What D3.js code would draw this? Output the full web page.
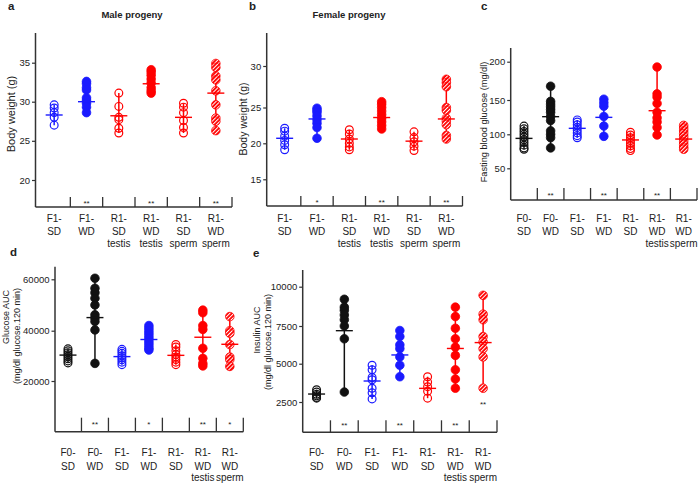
<!DOCTYPE html>
<html><head><meta charset="utf-8">
<script src="https://cdn.jsdelivr.net/npm/d3@7"></script>
<style>body{margin:0;background:#fff} svg{display:block} text{font-family:"Liberation Sans",Arial,sans-serif;fill:#222}</style>
</head><body><svg id="chart" width="700" height="483"></svg>
<script>
// ---------- categories ----------
const catsBW = [["F1-","SD"],["F1-","WD"],["R1-","SD","testis"],["R1-","WD","testis"],["R1-","SD","sperm"],["R1-","WD","sperm"]];
const groupsBW = ["F1-SD","F1-WD","R1-SD-testis","R1-WD-testis","R1-SD-sperm","R1-WD-sperm"];
const catsMet = [["F0-","SD"],["F0-","WD"],["F1-","SD"],["F1-","WD"],["R1-","SD"],["R1-","WD","testis"],["R1-","WD","sperm"]];
const groupsMet = ["F0-SD","F0-WD","F1-SD","F1-WD","R1-SD","R1-WD-testis","R1-WD-sperm"];

// ---------- a: male body weight (g) ----------
const maleWeight = [
  [29.6, 29.2, 28.6, 28.0, 27.0],
  [32.6, 32.3, 31.8, 31.5, 30.5, 30.2, 29.8, 29.3, 28.6],
  [31.1, 29.4, 28.0, 27.7, 26.6, 26.0],
  [34.1, 33.8, 33.4, 32.9, 32.4, 31.8, 31.4, 31.1],
  [29.8, 29.3, 28.6, 27.6, 26.7, 26.0],
  [34.9, 34.4, 33.3, 32.8, 31.4, 29.6, 27.9, 27.5, 26.3]
];
const maleMean = [28.3, 30.0, 28.2, 32.3, 28.0, 31.1];
const starsMale = ["","**","","**","","**"];
const ticksMale = [20, 25, 30, 35];

// ---------- b: female body weight (g) ----------
const femaleWeight = [
  [22.1, 21.7, 21.0, 20.4, 19.8, 19.1],
  [24.9, 24.6, 24.3, 23.8, 23.3, 22.8, 22.2, 20.7],
  [21.9, 21.3, 20.6, 20.0, 19.5, 19.1],
  [25.7, 25.4, 25.0, 24.5, 24.0, 23.5, 23.0, 22.5, 22.0],
  [21.6, 20.8, 20.2, 19.6, 19.0],
  [28.4, 28.0, 27.5, 25.0, 24.6, 23.5, 23.1, 22.6, 21.1, 20.6]
];
const femaleMean = [20.7, 23.4, 20.6, 23.6, 20.3, 23.4];
const starsFemale = ["","*","","**","","**"];
const ticksFemale = [15, 20, 25, 30];

// ---------- c: fasting blood glucose (mg/dl) ----------
const fastingGlucose = [
  [112, 108, 104, 100, 96, 92, 88, 84, 80, 78],
  [168, 148, 144, 140, 136, 132, 126, 120, 105, 100, 95, 80],
  [121, 118, 114, 110, 106, 102, 98, 95],
  [151, 146, 141, 126, 112, 97],
  [103, 99, 95, 91, 87, 83, 79, 76],
  [193, 158, 154, 145, 132, 124, 118, 110, 99],
  [113, 109, 105, 101, 97, 93, 89, 85, 81, 78]
];
const fastingMean = [94, 125.7, 108.7, 124.7, 91.7, 134.4, 93];
const starsFasting = ["","**","","**","","**",""];
const ticksFasting = [50, 100, 150, 200];

// ---------- d: glucose AUC ----------
const glucoseAUC = [
  [32800, 32000, 31200, 30400, 29600, 28800, 28000, 27200],
  [60400, 56500, 54800, 52600, 50000, 46200, 44900, 43600, 40300, 27000],
  [32600, 31800, 31000, 30000, 29200, 28400, 27500, 26500],
  [42000, 41000, 40000, 39000, 38000, 37000, 36000, 35000, 34000, 33000, 32300],
  [34500, 33500, 32000, 30500, 29500, 28500, 27500, 26500],
  [48000, 47000, 42000, 40500, 33000, 29000, 27000, 26000],
  [45500, 40000, 39000, 34500, 29500, 28500, 25800]
];
const glucoseMean = [30300, 45100, 29700, 36500, 30200, 37400, 34600];
const starsGlucose = ["","**","","*","","**","*"];
const ticksGlucose = [20000, 40000, 60000];

// ---------- e: insulin AUC ----------
const insulinAUC = [
  [3300, 3150, 3000, 2900, 2800, 2750],
  [9200, 8700, 8500, 8200, 7900, 7500, 6650, 3150],
  [4900, 4600, 4100, 3950, 3400, 3100, 2700],
  [7200, 6800, 6250, 6000, 5450, 4900, 4150],
  [4150, 3800, 3500, 3200, 2750],
  [8700, 8100, 7350, 6650, 6100, 5550, 4600, 4000, 3400],
  [9450, 8250, 7900, 6800, 6450, 6000, 5450, 3400]
];
const insulinMean = [3020, 7190, 3870, 5580, 3390, 6010, 6400];
const starsInsulin = ["","**","","**","","**",""];
const starsInsulinPoint = ["","","","","","","**"];
const ticksInsulin = [2500, 5000, 7500, 10000];

// ---------- styling per group ----------
const BLUE = "#1a1aff", RED = "#ff0000", BLACK = "#111";
const groupStyle = {
  "F0-SD": {c: BLACK, t: "open"}, "F0-WD": {c: BLACK, t: "fill"},
  "F1-SD": {c: BLUE, t: "open"}, "F1-WD": {c: BLUE, t: "fill"},
  "R1-SD": {c: RED, t: "open"},
  "R1-SD-testis": {c: RED, t: "open"}, "R1-WD-testis": {c: RED, t: "fill"},
  "R1-SD-sperm": {c: RED, t: "open"}, "R1-WD-sperm": {c: RED, t: "hatch"}
};

const svg = d3.select("#chart");
const defs = svg.append("defs");
const pat = defs.append("pattern").attr("id", "hatch").attr("width", 2.8).attr("height", 2.8)
  .attr("patternUnits", "userSpaceOnUse").attr("patternTransform", "rotate(45)");
pat.append("rect").attr("width", 2.8).attr("height", 2.8).attr("fill", RED);
pat.append("rect").attr("width", 1).attr("height", 2.8).attr("fill", "#fff");

const AX = "#333";

const panels = [
  {letter:"a", lx:8, ly:10, title:"Male progeny", tx:132, ty:17.5,
   cats:catsBW, groups:groupsBW, vals:maleWeight, means:maleMean, stars:starsMale,
   ticks:ticksMale, tpx:[180,140.8,101.7,62.7], axisX:35.5, bandL:38, bandR:232, top:33, base:207, divH:10,
   starY:206, labY:[222,234.5,247], ylab:["Body weight (g)"], ylx:[11], yly:[114], yfs:11, tfs:9.5, catfs:10},
  {letter:"b", lx:249, ly:10, title:"Female progeny", tx:349, ty:17.5,
   cats:catsBW, groups:groupsBW, vals:femaleWeight, means:femaleMean, stars:starsFemale,
   ticks:ticksFemale, tpx:[179.3,143.3,107.5,66], axisX:266.7, bandL:268.5, bandR:462.5, top:33, base:206, divH:10,
   starY:205, labY:[222,234.5,247], ylab:["Body weight (g)"], ylx:[243.5], yly:[119], yfs:10.5, tfs:9.5, catfs:10},
  {letter:"c", lx:481, ly:10,
   cats:catsMet, groups:groupsMet, vals:fastingGlucose, means:fastingMean, stars:starsFasting,
   ticks:ticksFasting, tpx:[168.3,134.3,100,61.7], axisX:510.7, bandL:510.7, bandR:697, top:48, base:200, divH:12,
   starY:197.5, labY:[222,234.5,247], ylab:["Fasting blood glucose (mg/dl)"], ylx:[484], yly:[122], yfs:9.2, tfs:9.5, catfs:10},
  {letter:"d", lx:10, ly:256,
   cats:catsMet, groups:groupsMet, vals:glucoseAUC, means:glucoseMean, stars:starsGlucose,
   ticks:ticksGlucose, tpx:[381,330.7,279.3], axisX:55, bandL:54.5, bandR:243.3, top:266.7, base:431.7, divH:14,
   starY:426.5, labY:[456,469.5,481], ylab:["Glucose AUC","(mg/dl glucose.120 min)"], ylx:[6,16.5], yly:[317,336], yfs:9, tfs:9.5, catfs:10},
  {letter:"e", lx:253, ly:257,
   cats:catsMet, groups:groupsMet, vals:insulinAUC, means:insulinMean, stars:starsInsulin, starsPt:starsInsulinPoint,
   ticks:ticksInsulin, tpx:[402,363.7,326,286.7], axisX:302.7, bandL:302.7, bandR:497, top:270, base:432.3, divH:12,
   starY:427.5, labY:[456,469.5,481], ylab:["Insulin AUC","(mg/dl glucose.120 min)"], ylx:[257,267.5], yly:[330,342], yfs:9, tfs:9.5, catfs:10}
];

panels.forEach(p => {
  const g = svg.append("g");
  const y = d3.scaleLinear().domain(p.ticks).range(p.tpx);
  const x = d3.scaleBand().domain(p.groups).range([p.bandL, p.bandR]);
  const bw = x.bandwidth();

  g.append("text").attr("x", p.lx).attr("y", p.ly).attr("font-size", 11.5).attr("font-weight", "bold").text(p.letter);
  if (p.title) g.append("text").attr("x", p.tx).attr("y", p.ty).attr("text-anchor", "middle")
      .attr("font-size", 9.5).attr("font-weight", "bold").text(p.title);

  const yAxis = d3.axisLeft(y).tickValues(p.ticks).tickSize(3.5).tickPadding(2).tickFormat(d3.format("d"));
  const ya = g.append("g").attr("transform", `translate(${p.axisX},0)`).call(yAxis);
  ya.select(".domain").remove();
  ya.selectAll(".tick line").attr("stroke", AX).attr("stroke-width", 1.2);
  ya.selectAll(".tick text").attr("font-size", p.tfs).attr("fill", "#222").attr("font-family", "Liberation Sans, Arial, sans-serif");
  g.append("line").attr("x1", p.axisX).attr("x2", p.axisX).attr("y1", p.top).attr("y2", p.base)
    .attr("stroke", AX).attr("stroke-width", 1.5);
  g.append("line").attr("x1", p.axisX).attr("x2", p.bandR).attr("y1", p.base).attr("y2", p.base)
    .attr("stroke", AX).attr("stroke-width", 1.5);
  p.groups.forEach(grp => {
    const xr = x(grp) + bw;
    g.append("line").attr("x1", xr).attr("x2", xr).attr("y1", p.base).attr("y2", p.base - p.divH)
      .attr("stroke", AX).attr("stroke-width", 1.3);
  });

  p.ylab.forEach((t, k) => {
    g.append("text").attr("transform", `translate(${p.ylx[k]},${p.yly[k]}) rotate(-90)`)
      .attr("text-anchor", "middle").attr("dy", "0.35em").attr("font-size", p.yfs).text(t);
  });

  p.cats.forEach((lines, i) => {
    const cx = x(p.groups[i]) + bw / 2;
    lines.forEach((t, k) => {
      g.append("text").attr("x", cx).attr("y", p.labY[k]).attr("text-anchor", "middle")
        .attr("font-size", p.catfs).text(t);
    });
  });

  p.stars.forEach((s, i) => {
    if (!s) return;
    g.append("text").attr("x", x(p.groups[i]) + bw / 2).attr("y", p.starY).attr("text-anchor", "middle")
      .attr("font-size", 8).text(s);
  });

  p.groups.forEach((grp, i) => {
    const st = groupStyle[grp];
    const cx = x(grp) + bw / 2;
    const vals = p.vals[i];
    const lo = d3.min(vals), hi = d3.max(vals);
    const gg = g.append("g");
    gg.append("line").attr("x1", cx).attr("x2", cx).attr("y1", y(hi)).attr("y2", y(lo))
      .attr("stroke", st.c).attr("stroke-width", 1.5);
    gg.selectAll("circle").data(vals).join("circle")
      .attr("cx", cx).attr("cy", d => y(d)).attr("r", st.t === "open" ? 3.9 : 4.3)
      .attr("fill", st.t === "open" ? "none" : (st.t === "hatch" ? "url(#hatch)" : st.c))
      .attr("stroke", st.c).attr("stroke-width", st.t === "open" ? 1.2 : 0.8);
    gg.append("line").attr("x1", cx - 8.5).attr("x2", cx + 8.5).attr("y1", y(p.means[i])).attr("y2", y(p.means[i]))
      .attr("stroke", st.c).attr("stroke-width", 1.4);
    if (p.starsPt && p.starsPt[i]) {
      g.append("text").attr("x", cx).attr("y", y(lo) + 19).attr("text-anchor", "middle")
        .attr("font-size", 8).text(p.starsPt[i]);
    }
  });
});
</script></body></html>
